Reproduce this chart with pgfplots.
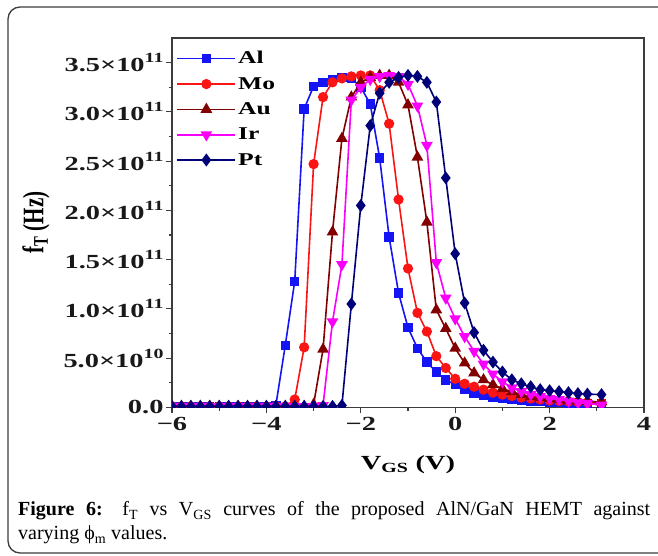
\documentclass[border=0pt]{standalone}
\usepackage{pgfplots}
\pgfplotsset{compat=1.18}
\usepackage{pgfplotstable}
\usepackage{fontspec}
\setmainfont{Liberation Serif}

\definecolor{cAl}{RGB}{20,20,245}
\definecolor{cMo}{RGB}{250,20,20}
\definecolor{cAu}{RGB}{130,0,0}
\definecolor{cIr}{RGB}{250,0,250}
\definecolor{cPt}{RGB}{0,0,120}
\definecolor{frame}{RGB}{60,60,60}

% chart lettering is set wide
\newcommand{\wide}[1]{\scalebox{1.42}[1]{#1}}
\newcommand{\sci}[2]{\wide{\bfseries #1×10\raisebox{0.45em}{\fontsize{14}{14}\selectfont #2}}}

% f_T (Hz) against V_GS (V) for five gate metals
\pgfplotstableread{
x     Al     Mo     Au     Ir     Pt
-6.0  0.01e11 0.01e11 0.01e11 0.01e11 0.01e11
-5.8  0.01e11 0.01e11 0.01e11 0.01e11 0.01e11
-5.6  0.01e11 0.01e11 0.01e11 0.01e11 0.01e11
-5.4  0.01e11 0.01e11 0.01e11 0.01e11 0.01e11
-5.2  0.01e11 0.01e11 0.01e11 0.01e11 0.01e11
-5.0  0.01e11 0.01e11 0.01e11 0.01e11 0.01e11
-4.8  0.01e11 0.01e11 0.01e11 0.01e11 0.01e11
-4.6  0.01e11 0.01e11 0.01e11 0.01e11 0.01e11
-4.4  0.01e11 0.01e11 0.01e11 0.01e11 0.01e11
-4.2  0.01e11 0.01e11 0.01e11 0.01e11 0.01e11
-4.0  0.01e11 0.01e11 0.01e11 0.01e11 0.01e11
-3.8  0.02e11 0.01e11 0.01e11 0.01e11 0.01e11
-3.6  0.63e11 0.01e11 0.01e11 0.01e11 0.01e11
-3.4  1.28e11 0.08e11 0.01e11 0.01e11 0.01e11
-3.2  3.03e11 0.61e11 0.01e11 0.01e11 0.01e11
-3.0  3.26e11 2.47e11 0.03e11 0.01e11 0.01e11
-2.8  3.30e11 3.15e11 0.59e11 0.02e11 0.01e11
-2.6  3.33e11 3.30e11 1.78e11 0.87e11 0.01e11
-2.4  3.35e11 3.34e11 2.73e11 1.45e11 0.02e11
-2.2  3.34e11 3.36e11 3.15e11 3.12e11 1.05e11
-2.0  3.25e11 3.37e11 3.30e11 3.25e11 2.05e11
-1.8  3.08e11 3.37e11 3.35e11 3.33e11 2.86e11
-1.6  2.53e11 3.22e11 3.37e11 3.36e11 3.19e11
-1.4  1.73e11 2.88e11 3.37e11 3.37e11 3.30e11
-1.2  1.16e11 2.11e11 3.30e11 3.36e11 3.35e11
-1.0  0.81e11 1.41e11 3.07e11 3.28e11 3.37e11
-0.8  0.60e11 0.96e11 2.54e11 3.06e11 3.36e11
-0.6  0.46e11 0.77e11 1.88e11 2.66e11 3.30e11
-0.4  0.36e11 0.52e11 0.99e11 1.47e11 3.10e11
-0.2  0.28e11 0.40e11 0.80e11 1.11e11 2.33e11
 0.0  0.23e11 0.29e11 0.60e11 0.90e11 1.56e11
 0.2  0.18e11 0.24e11 0.45e11 0.72e11 1.06e11
 0.4  0.145e11 0.21e11 0.35e11 0.57e11 0.76e11
 0.6  0.12e11 0.18e11 0.28e11 0.44e11 0.58e11
 0.8  0.10e11 0.15e11 0.23e11 0.34e11 0.46e11
 1.0  0.09e11 0.13e11 0.19e11 0.26e11 0.36e11
 1.2  0.08e11 0.115e11 0.16e11 0.20e11 0.28e11
 1.4  0.07e11 0.10e11 0.13e11 0.16e11 0.24e11
 1.6  0.065e11 0.09e11 0.11e11 0.13e11 0.21e11
 1.8  0.06e11 0.08e11 0.10e11 0.11e11 0.18e11
 2.0  0.055e11 0.07e11 0.09e11 0.09e11 0.17e11
 2.2  0.05e11 0.065e11 0.08e11 0.08e11 0.16e11
 2.4  0.045e11 0.06e11 0.07e11 0.065e11 0.15e11
 2.6  0.04e11 0.055e11 0.065e11 0.05e11 0.14e11
 2.8  0.04e11 0.05e11 0.06e11 0.04e11 0.135e11
 3.1  0.035e11 0.045e11 0.055e11 0.025e11 0.13e11
}\ftdata

\begin{document}
\begin{tikzpicture}[x=1pt,y=1pt]
\useasboundingbox (0pt,0pt) rectangle (658pt,556pt);
% rounded frame around figure and caption
\draw[line width=1.3pt, frame, rounded corners=12pt] (680pt,549pt) -- (8pt,549pt) -- (8pt,3pt) -- (680pt,3pt);

\begin{axis}[
  at={(172pt,148.6pt)}, anchor=south west,
  scale only axis, width=472pt, height=369.4pt,
  xmin=-6, xmax=4, ymin=0, ymax=3.75e11,
  xtick={-6,-4,-2,0,2,4},
  minor xtick={-5,-3,-1,1,3},
  xticklabels={\wide{\bfseries −6},\wide{\bfseries −4},\wide{\bfseries −2},\wide{\bfseries 0},\wide{\bfseries 2},\wide{\bfseries 4}},
  ytick={0,5e10,1e11,1.5e11,2e11,2.5e11,3e11,3.5e11},
  minor ytick={2.5e10,7.5e10,1.25e11,1.75e11,2.25e11,2.75e11,3.25e11},
  yticklabels={\wide{\bfseries 0.0},\sci{5.0}{10},\sci{1.0}{11},\sci{1.5}{11},\sci{2.0}{11},\sci{2.5}{11},\sci{3.0}{11},\sci{3.5}{11}},
  scaled y ticks=false,
  tick label style={font=\fontsize{20}{20}\selectfont, color=black!90},
  yticklabel style={xshift=1pt},
  tick align=outside, tick pos=left,
  major tick length=6pt, minor tick length=3.5pt,
  axis line style={line width=1.3pt, frame},
  every tick/.style={line width=1.1pt, frame},
  clip marker paths=true,
  xlabel={\wide{\bfseries V\textsubscript{GS} (V)}},
  xlabel style={at={(axis description cs:0.5,-0.156)}, anchor=center, font=\fontsize{20}{20}\selectfont},
  ylabel={\scalebox{1}[1.42]{\bfseries f\textsubscript{T} (Hz)}},
  ylabel style={at={(axis description cs:-0.288,0.5)}, anchor=center, font=\fontsize{21}{21}\selectfont},
  legend style={at={(axis description cs:0.005,0.975)}, anchor=north west,
    draw=none, fill=none, font=\fontsize{18}{18}\selectfont\bfseries,
    row sep=8pt, inner sep=2pt},
  legend cell align=left,
  legend image code/.code={\draw[mark repeat=2,mark phase=2,#1] plot coordinates {(0pt,0pt) (29pt,0pt) (58pt,0pt)};},
  every axis plot/.append style={line width=1.6pt},
]
\addplot[cAl, mark=square*, mark size=3.9pt] table[x=x, y=Al] {\ftdata};
\addlegendentry{\wide{Al}}
\addplot[cMo, mark=*, mark size=4.3pt] table[x=x, y=Mo] {\ftdata};
\addlegendentry{\wide{Mo}}
\addplot[cAu, mark=triangle*, mark size=5.2pt] table[x=x, y=Au] {\ftdata};
\addlegendentry{\wide{Au}}
\addplot[cIr, mark=triangle*, mark options={rotate=180}, mark size=5.2pt] table[x=x, y=Ir] {\ftdata};
\addlegendentry{\wide{Ir}}
\addplot[cPt, mark=diamond*, mark size=5.2pt] table[x=x, y=Pt] {\ftdata};
\addlegendentry{\wide{Pt}}
\end{axis}

% caption
\node[anchor=base west, inner sep=0, font=\fontsize{20}{24}\selectfont] at (18pt,40pt)
  {\makebox[632pt][s]{\textbf{Figure 6:} f\textsubscript{T} vs V\textsubscript{GS} curves of the proposed AlN/GaN HEMT against}};
\node[anchor=base west, inner sep=0, font=\fontsize{20}{24}\selectfont] at (18pt,16pt)
  {varying ϕ\textsubscript{m} values.};
\end{tikzpicture}
\end{document}
